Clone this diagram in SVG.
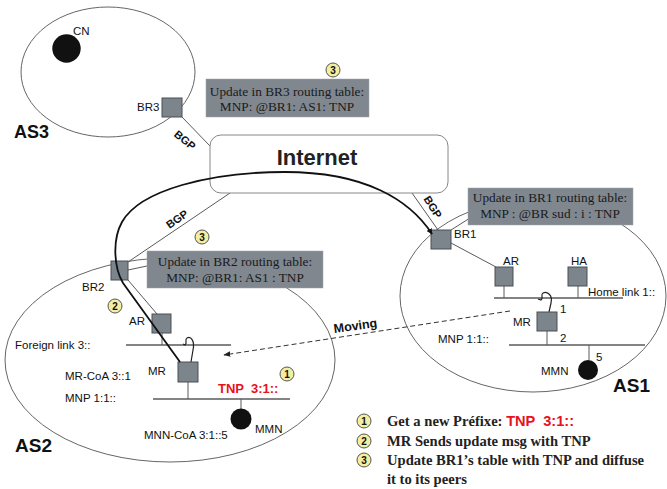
<svg xmlns="http://www.w3.org/2000/svg" width="667" height="489" viewBox="0 0 667 489">
<style>
.as{fill:none;stroke:#666;stroke-width:1}
.rt{fill:#7c848c;stroke:#4a4f55;stroke-width:1}
.ln{stroke:#5a5a5a;stroke-width:1;fill:none}
.lk{stroke:#5a5a5a;stroke-width:1.3;fill:none}
.lbl{font-family:"Liberation Sans",Arial,sans-serif;font-size:11.5px;fill:#111}
.ast{font-family:"Liberation Sans",Arial,sans-serif;font-size:19px;font-weight:bold;fill:#111}
.ub{fill:#80878f;stroke:#a0a4a8;stroke-width:0.5}
.ut{font-family:"Liberation Serif","Times New Roman",serif;font-size:13.3px;fill:#1a1a1a;text-anchor:middle}
.num circle{fill:#f3eea0;stroke:#555;stroke-width:1}
.num text{font-family:"Liberation Sans",Arial,sans-serif;font-size:10px;font-weight:bold;text-anchor:middle;fill:#111}
.leg{font-family:"Liberation Serif","Times New Roman",serif;font-size:14.6px;font-weight:bold;fill:#222}
.red{font-family:"Liberation Sans",Arial,sans-serif;font-weight:bold;fill:#e8121c}
.bgp{font-family:"Liberation Sans",Arial,sans-serif;font-size:11px;font-weight:bold;fill:#111;text-anchor:middle}
.rp{fill:none;stroke:#111;stroke-width:1.8}
.sq{fill:none;stroke:#222;stroke-width:1.2}
</style>
<defs>
<marker id="ah" viewBox="0 0 10 10" refX="9" refY="5" markerWidth="6" markerHeight="6" orient="auto" markerUnits="userSpaceOnUse">
<path d="M0,0 L10,5 L0,10 z" fill="#111"/>
</marker>
<marker id="ah2" viewBox="0 0 10 10" refX="9" refY="5" markerWidth="7" markerHeight="7" orient="auto" markerUnits="userSpaceOnUse">
<path d="M0,1 L10,5 L0,9 z" fill="#222"/>
</marker>
</defs>

<!-- Autonomous systems -->
<g id="AS3">
<ellipse class="as" cx="108" cy="72" rx="87" ry="65"/>
<text class="ast" x="14" y="138" style="font-size:18px">AS3</text>
</g>
<g id="AS2">
<ellipse class="as" cx="170" cy="360" rx="165" ry="102"/>
<text class="ast" x="15" y="452">AS2</text>
</g>
<g id="AS1">
<ellipse class="as" cx="533" cy="296" rx="133" ry="96"/>
<text class="ast" x="613" y="392">AS1</text>
</g>

<!-- connectors -->
<g id="connectors">
<line class="ln" x1="182" y1="117" x2="210" y2="146"/>
<line class="ln" x1="128" y1="262" x2="230" y2="193"/>
<line class="ln" x1="412" y1="193" x2="438" y2="230"/>
<line class="ln" x1="128" y1="270" x2="147" y2="266"/>
<line class="ln" x1="451" y1="230" x2="470" y2="218"/>
<line class="ln" x1="128" y1="280" x2="157" y2="314"/>
<line class="ln" x1="451" y1="243" x2="496" y2="267"/>
<line class="lk" x1="126" y1="345" x2="231" y2="345"/>
<line class="lk" x1="153" y1="399" x2="290" y2="399"/>
<line class="lk" x1="494" y1="298" x2="623" y2="298"/>
<line class="lk" x1="509" y1="345" x2="645" y2="345"/>
<line class="ln" x1="162" y1="333" x2="162" y2="345"/>
<line class="ln" x1="188" y1="382" x2="188" y2="399"/>
<line class="ln" x1="241" y1="399" x2="241" y2="409"/>
<line class="ln" x1="504" y1="286" x2="504" y2="298"/>
<line class="ln" x1="578" y1="286" x2="578" y2="298"/>
<line class="ln" x1="547" y1="331" x2="547" y2="345"/>
<line class="ln" x1="589" y1="345" x2="589" y2="360"/>
<path class="sq" d="M191,362 L193,350 C195,341 191,336 187,338 C184,340 188,343 185,345 L183,344"/>
<path class="sq" d="M549,312 L551,303 C553,295 547,291 543,293 C540,295 544,298 541,300 L538,299"/>
<line x1="510" y1="311" x2="224" y2="355" stroke="#333" stroke-width="1" stroke-dasharray="5,3" marker-end="url(#ah2)"/>
<text class="lbl" transform="translate(356,330) rotate(-8)" text-anchor="middle" style="font-weight:bold;font-size:12.5px">Moving</text>
<text class="bgp" transform="translate(185,140) rotate(40)" y="4">BGP</text>
<text class="bgp" transform="translate(177,219) rotate(-35)" y="4">BGP</text>
<text class="bgp" transform="translate(433,207) rotate(58)" y="4">BGP</text>
</g>

<g id="Internet">
<rect x="210" y="135" width="238" height="58" rx="11" fill="#fff" stroke="#888" stroke-width="1"/>
<text x="317" y="165" text-anchor="middle" style="font-family:'Liberation Sans',Arial,sans-serif;font-size:22px;font-weight:bold;fill:#222">Internet</text>
</g>

<g id="CN">
<circle cx="66.5" cy="48.5" r="14.2" fill="#111"/>
<text class="lbl" x="73" y="35">CN</text>
</g>
<g id="BR3">
<rect class="rt" x="162" y="98" width="20" height="19"/>
<text class="lbl" x="137" y="111">BR3</text>
</g>
<g id="BR2">
<rect class="rt" x="111" y="261" width="17" height="19"/>
<text class="lbl" x="82" y="291">BR2</text>
</g>
<g id="AR2">
<rect class="rt" x="152" y="314" width="19" height="19"/>
<text class="lbl" x="129" y="325">AR</text>
</g>
<g id="MR2">
<rect class="rt" x="178" y="362" width="20" height="20"/>
<text class="lbl" x="148" y="375">MR</text>
<text class="lbl" x="65" y="380">MR-CoA 3::1</text>
<text class="lbl" x="65" y="402">MNP 1:1::</text>
<text class="lbl" x="15" y="349">Foreign link 3::</text>
<text class="red" x="218" y="393" xml:space="preserve" style="font-size:13px">TNP  3:1::</text>
</g>
<g id="MMN2">
<circle cx="241" cy="419" r="10.5" fill="#111"/>
<text class="lbl" x="255" y="433">MMN</text>
<text class="lbl" x="144" y="439">MNN-CoA 3:1::5</text>
</g>

<g id="BR1">
<rect class="rt" x="431" y="230" width="20" height="19"/>
<text class="lbl" x="454" y="238">BR1</text>
</g>
<g id="AR1">
<rect class="rt" x="495" y="267" width="18" height="19"/>
<text class="lbl" x="503" y="265">AR</text>
</g>
<g id="HA">
<rect class="rt" x="568" y="267" width="19" height="19"/>
<text class="lbl" x="571" y="265">HA</text>
<text class="lbl" x="588" y="296">Home link 1::</text>
</g>
<g id="MR1">
<rect class="rt" x="537" y="312" width="20" height="19"/>
<text class="lbl" x="513" y="326">MR</text>
<text class="lbl" x="560" y="313">1</text>
<text class="lbl" x="560" y="342">2</text>
<text class="lbl" x="438" y="343">MNP 1:1::</text>
</g>
<g id="MMN1">
<circle cx="588" cy="370" r="10" fill="#111"/>
<text class="lbl" x="541" y="375">MMN</text>
<text class="lbl" x="596" y="361">5</text>
</g>

<g id="routing-path">
<path class="rp" d="M180,362 L123,283 C114,268 112,240 122,222 C140,190 210,172 285,172 C365,172 410,200 432,234" marker-end="url(#ah)"/>
</g>

<g id="upd-BR3">
<rect class="ub" x="206" y="79" width="163" height="38"/>
<text class="ut" x="287" y="96">Update in BR3 routing table:</text>
<text class="ut" x="287" y="111">MNP: @BR1: AS1: TNP</text>
</g>
<g id="upd-BR2">
<rect class="ub" x="147" y="251" width="176" height="37"/>
<text class="ut" x="235" y="266">Update in BR2 routing table:</text>
<text class="ut" x="235" y="282">MNP: @BR1: AS1 : TNP</text>
</g>
<g id="upd-BR1">
<rect class="ub" x="468" y="188" width="165" height="37"/>
<text class="ut" x="550" y="202">Update in BR1 routing table:</text>
<text class="ut" x="550" y="218">MNP : @BR sud : i : TNP</text>
</g>

<g class="num" id="step-marks">
<circle cx="333" cy="70" r="7"/><text x="333" y="73.5">3</text>
<circle cx="202" cy="237" r="7"/><text x="202" y="240.5">3</text>
<circle cx="115" cy="306" r="7"/><text x="115" y="309.5">2</text>
<circle cx="287" cy="374" r="7"/><text x="287" y="377.5">1</text>
</g>

<g id="legend">
<g class="num">
<circle cx="364" cy="421" r="7"/><text x="364" y="424.5">1</text>
<circle cx="364" cy="441" r="7"/><text x="364" y="444.5">2</text>
<circle cx="364" cy="460" r="7"/><text x="364" y="463.5">3</text>
</g>
<text class="leg" x="387" y="426">Get a new Préfixe: <tspan class="red" xml:space="preserve">TNP  3:1::</tspan></text>
<text class="leg" x="387" y="446">MR Sends update msg with TNP</text>
<text class="leg" x="387" y="465">Update BR1’s table with TNP and diffuse</text>
<text class="leg" x="387" y="484">it to its peers</text>
</g>
</svg>
